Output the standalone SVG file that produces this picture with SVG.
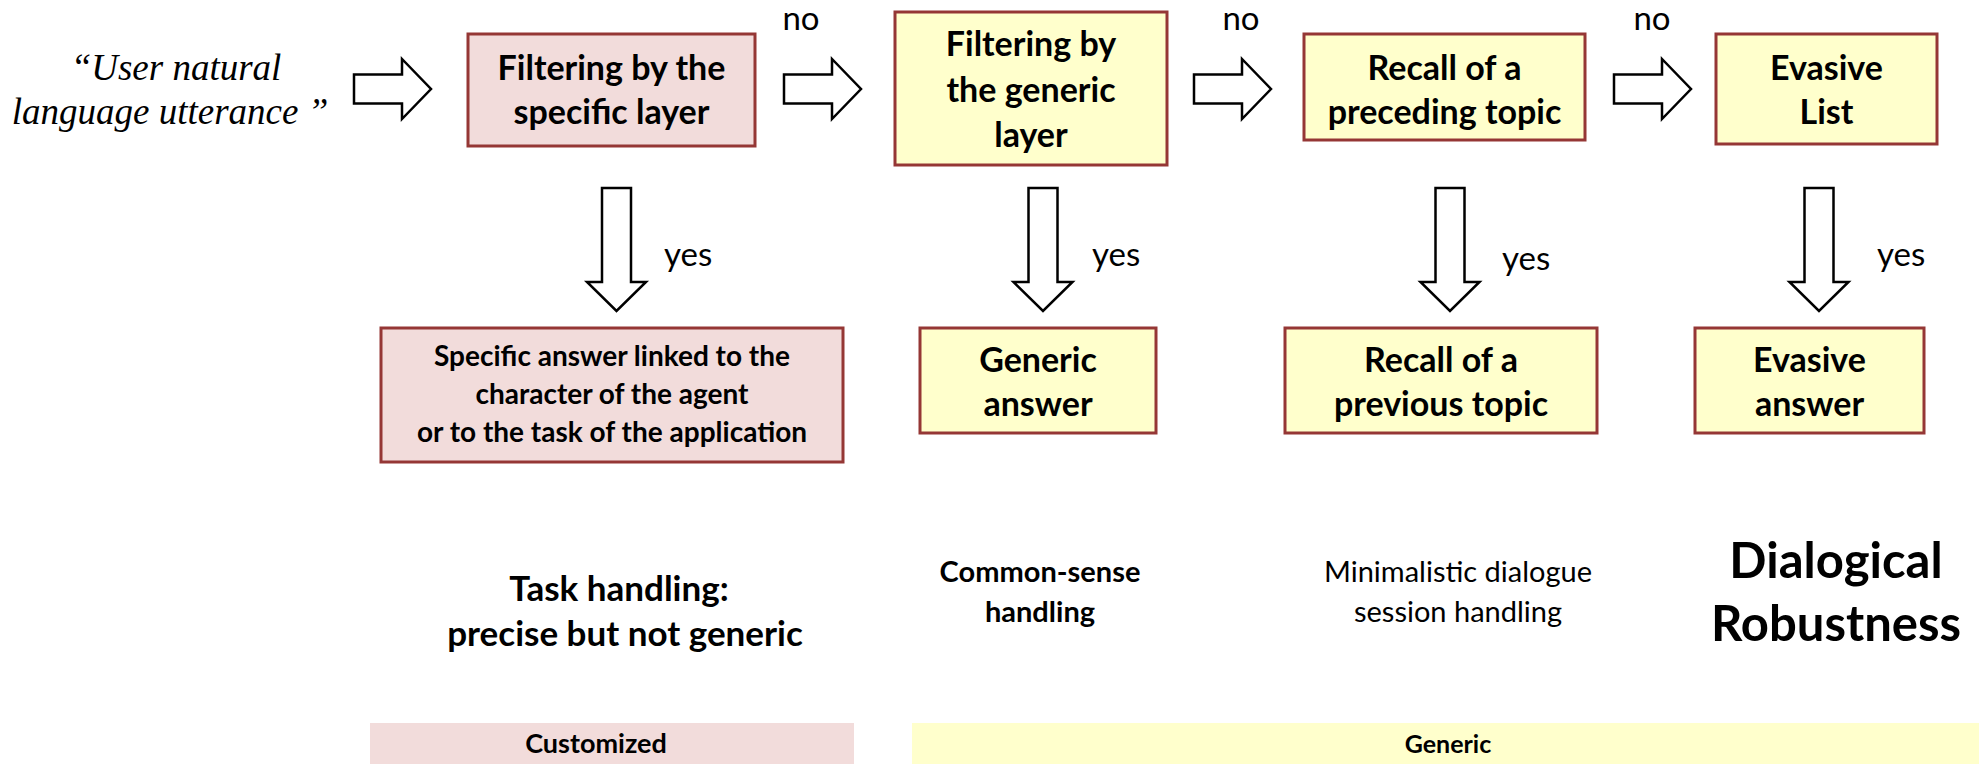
<svg xmlns="http://www.w3.org/2000/svg" xmlns:xlink="http://www.w3.org/1999/xlink" width="1979" height="764" viewBox="0 0 1979 764">
<style>
.pink{fill:#f2dcdb;stroke:#953735;stroke-width:3}
.yellow{fill:#ffffcc;stroke:#953735;stroke-width:3}
.t{font-family:Lato,"Liberation Sans",sans-serif;font-weight:bold;fill:#000;text-anchor:middle}
.r{font-family:Lato,"Liberation Sans",sans-serif;fill:#000}
.arr{fill:#fff;stroke:#000;stroke-width:2.5;stroke-linejoin:miter}
</style>
<defs>
<path id="ra" class="arr" d="M0,-14.5 H48 V-30 L77,0 L48,30 V14.5 H0 Z"/>
<path id="da" class="arr" d="M-14.5,0 V94 H-29.5 L0,123 L29.5,94 H14.5 V0 Z"/>
</defs>
<rect width="1979" height="764" fill="#fff"/>

<g id="input">
<text x="176" y="80" font-family="'Liberation Serif',serif" font-style="italic" font-size="37" text-anchor="middle">“User natural</text>
<text x="170" y="124" font-family="'Liberation Serif',serif" font-style="italic" font-size="37" text-anchor="middle">language utterance ”</text>
</g>

<g id="connectors">
<use xlink:href="#ra" x="354" y="89"/>
<use xlink:href="#ra" x="784" y="89"/>
<use xlink:href="#ra" x="1194" y="89"/>
<use xlink:href="#ra" x="1614" y="89"/>
<use xlink:href="#da" x="616.5" y="188"/>
<use xlink:href="#da" x="1043" y="188"/>
<use xlink:href="#da" x="1450" y="188"/>
<use xlink:href="#da" x="1819" y="188"/>
<text class="r" font-size="33" x="801" y="30" text-anchor="middle">no</text>
<text class="r" font-size="33" x="1241" y="30" text-anchor="middle">no</text>
<text class="r" font-size="33" x="1652" y="30" text-anchor="middle">no</text>
<text class="r" font-size="33" x="664" y="266">yes</text>
<text class="r" font-size="33" x="1092" y="266">yes</text>
<text class="r" font-size="33" x="1502" y="270">yes</text>
<text class="r" font-size="33" x="1877" y="266">yes</text>
</g>

<g id="specific-filter">
<rect class="pink" x="468" y="34" width="287" height="112"/>
<text class="t" font-size="34" x="611.5" y="80">Filtering by the</text>
<text class="t" font-size="34" x="611.5" y="124">specific layer</text>
</g>
<g id="generic-filter">
<rect class="yellow" x="895" y="12" width="272" height="153"/>
<text class="t" font-size="34" x="1031" y="56">Filtering by</text>
<text class="t" font-size="34" x="1031" y="102">the generic</text>
<text class="t" font-size="34" x="1031" y="147">layer</text>
</g>
<g id="preceding-topic">
<rect class="yellow" x="1304" y="34" width="281" height="106"/>
<text class="t" font-size="34" x="1444.5" y="80">Recall of a</text>
<text class="t" font-size="34" x="1444.5" y="124">preceding topic</text>
</g>
<g id="evasive-list">
<rect class="yellow" x="1716" y="34" width="221" height="110"/>
<text class="t" font-size="34" x="1826.5" y="80">Evasive</text>
<text class="t" font-size="34" x="1826.5" y="124">List</text>
</g>

<g id="specific-answer">
<rect class="pink" x="381" y="328" width="462" height="134"/>
<text class="t" font-size="28" x="612" y="366">Specific answer linked to the</text>
<text class="t" font-size="28" x="612" y="404">character of the agent</text>
<text class="t" font-size="28" x="612" y="442">or to the task of the application</text>
</g>
<g id="generic-answer">
<rect class="yellow" x="920" y="328" width="236" height="105"/>
<text class="t" font-size="34" x="1038" y="372">Generic</text>
<text class="t" font-size="34" x="1038" y="416">answer</text>
</g>
<g id="previous-topic">
<rect class="yellow" x="1285" y="328" width="312" height="105"/>
<text class="t" font-size="34" x="1441" y="372">Recall of a</text>
<text class="t" font-size="34" x="1441" y="416">previous topic</text>
</g>
<g id="evasive-answer">
<rect class="yellow" x="1695" y="328" width="229" height="105"/>
<text class="t" font-size="34" x="1809.5" y="372">Evasive</text>
<text class="t" font-size="34" x="1809.5" y="416">answer</text>
</g>

<g id="captions">
<text class="t" font-size="35" x="619" y="601">Task handling:</text>
<text class="t" font-size="35" x="625" y="646">precise but not generic</text>
<text class="t" font-size="29" x="1040" y="582">Common-sense</text>
<text class="t" font-size="29" x="1040" y="622">handling</text>
<text class="r" font-size="29" x="1458" y="582" text-anchor="middle">Minimalistic dialogue</text>
<text class="r" font-size="29" x="1458" y="622" text-anchor="middle">session handling</text>
<text class="t" font-size="49" x="1836" y="578">Dialogical</text>
<text class="t" font-size="49" x="1836" y="641">Robustness</text>
</g>

<g id="bands">
<rect x="370" y="723" width="484" height="41" fill="#f2dcdb"/>
<text class="t" font-size="27" x="596" y="753">Customized</text>
<rect x="912" y="723" width="1067" height="41" fill="#ffffcc"/>
<text class="t" font-size="25" x="1448" y="753">Generic</text>
</g>
</svg>
